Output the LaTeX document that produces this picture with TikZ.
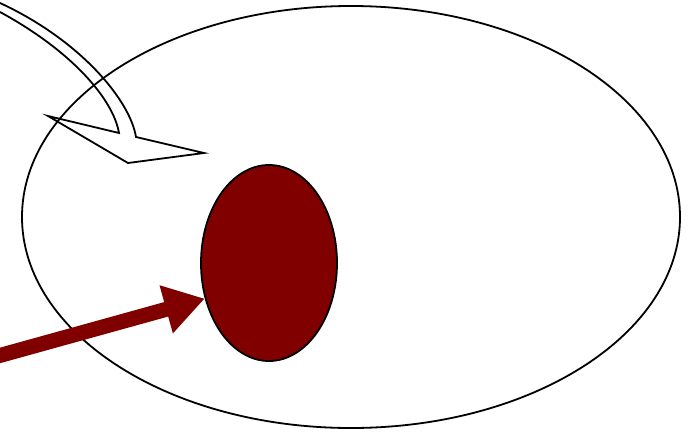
\documentclass[tikz,border=0pt]{standalone}
\usetikzlibrary{arrows.meta,shapes.geometric}
\definecolor{darkred}{RGB}{128,0,0}
\begin{document}
\begin{tikzpicture}[x=1pt,y=-1pt,
  outline/.style={draw=black,line width=1.8pt},
  blob/.style={ellipse,outline,fill=darkred}]
\useasboundingbox (0,0) rectangle (690,431);
\node[ellipse,outline,minimum width=658pt,minimum height=422pt,inner sep=0pt] (big) at (351,217) {};
\node[blob,minimum width=136pt,minimum height=196pt,inner sep=0pt] (small) at (269,263) {};
% hollow curved arrow
\coordinate (hs) at (0,3);
\draw[outline,line join=miter]
  (hs) .. controls (80,40) and (130,100) .. (136,137)
  -- (204,153) -- (128,163) -- (48,116) -- (119,133)
  .. controls (113,98) and (70,50) .. (0,12);
% red arrow
\coordinate (rs) at (-2,356);
\draw[darkred,line width=15pt,-{Triangle[length=40pt,width=47pt]}] (rs) -- (small.209);
\end{tikzpicture}
\end{document}
